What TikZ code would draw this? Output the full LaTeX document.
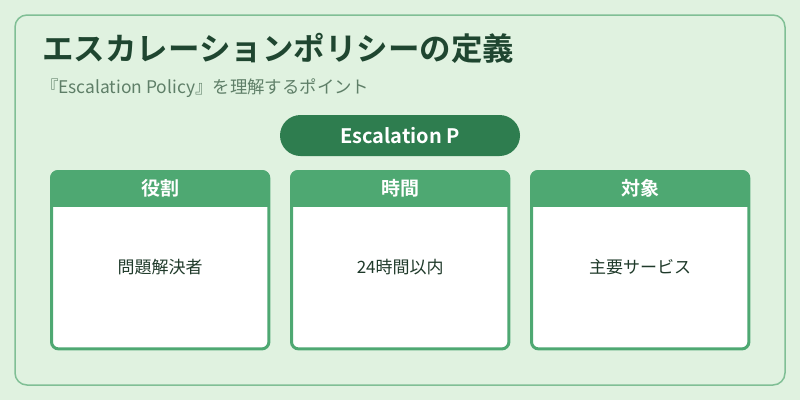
\documentclass[tikz,border=0pt]{standalone}
\usepackage{fontspec}
\usetikzlibrary{calc}
\setmainfont{Noto Sans CJK JP}[BoldFont={Noto Sans CJK JP Bold}]
\definecolor{bg}{HTML}{E0F2E0}
\definecolor{outer}{HTML}{80BF95}
\definecolor{titlec}{HTML}{1F4630}
\definecolor{subc}{HTML}{5F7F68}
\definecolor{pill}{HTML}{2E7D4F}
\definecolor{head}{HTML}{4EA872}
\definecolor{bodyc}{HTML}{1F3A2A}
\begin{document}
\begin{tikzpicture}[x=1pt,y=-1pt,
  cardbox/.style={fill=white,rounded corners=8pt,minimum width=220pt,minimum height=180pt,anchor=north west,inner sep=0pt},
  headtxt/.style={text=white,font=\bfseries\fontsize{19}{22}\selectfont,anchor=center},
  bodytxt/.style={text=bodyc,font=\fontsize{17}{20}\selectfont,anchor=center}]
\fill[bg] (0,0) rectangle (800,400);
\useasboundingbox (0,0) rectangle (800,400);
\draw[outer,line width=1.5pt,rounded corners=12pt] (15,15) rectangle (785,385);
\node[anchor=west,text=titlec,font=\bfseries\fontsize{31.5}{36}\selectfont,inner sep=0pt] (title) at (42,48) {エスカレーションポリシーの定義};
\node[anchor=west,text=subc,font=\fontsize{17.4}{20}\selectfont,inner sep=0pt] (sub) at (41,88.5) {『Escalation Policy』を理解するポイント};
\node[fill=pill,rounded corners=20.5pt,minimum width=240pt,minimum height=41pt,inner sep=0pt,text=white,font=\bfseries\fontsize{20}{24}\selectfont] (pill) at (400,135.5) {Escalation P};
\foreach \i/\x/\h/\b in {1/50/役割/問題解決者,2/290/時間/24時間以内,3/530/対象/主要サービス}{
  \node[cardbox] (card\i) at (\x,170) {};
  \begin{scope}
    \clip[rounded corners=8pt] (\x,170) rectangle ++(220,180);
    \fill[head] (\x,170) rectangle ++(220,37);
  \end{scope}
  \draw[head,line width=3pt,rounded corners=7pt] ($(card\i.north west)+(1.5,1.5)$) rectangle ($(card\i.south east)+(-1.5,-1.5)$);
  \node[headtxt] (h\i) at ($(card\i.north)+(0,18)$) {\h};
  \node[bodytxt] (b\i) at ($(card\i.north)+(0,97)$) {\b};
}
\end{tikzpicture}
\end{document}
